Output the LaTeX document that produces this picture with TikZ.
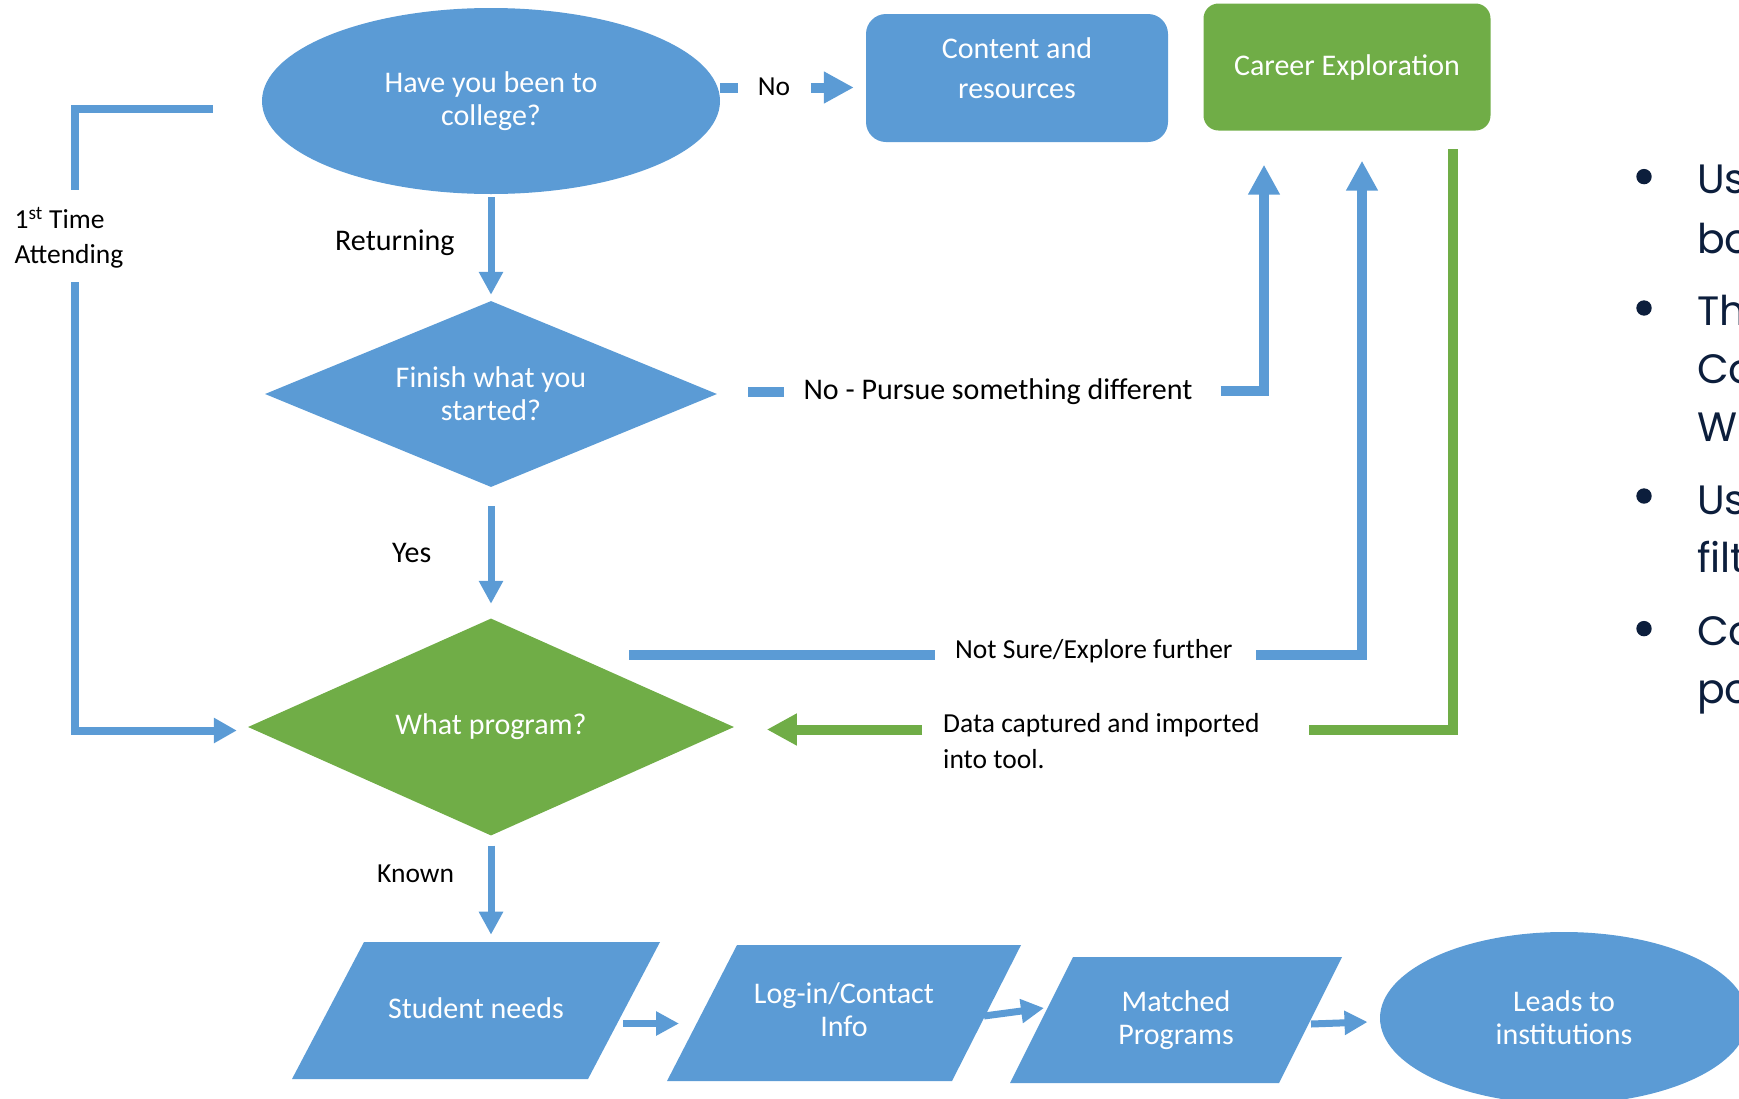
\documentclass[tikz,border=0pt]{standalone}
\usepackage{fontspec}
\setmainfont{Carlito}
\newfontfamily\bulletfont{Poppins}
\usetikzlibrary{shapes.geometric,arrows.meta}

\definecolor{flowblue}{HTML}{5B9BD5}
\definecolor{flowgreen}{HTML}{70AD47}
\definecolor{bulletnavy}{HTML}{0C1E3C}

\tikzset{
  boxtext/.style={text=white, align=center, inner sep=0pt, font=\fontsize{30}{33}\selectfont},
  steplabel/.style={anchor=base west, inner sep=0pt, font=\fontsize{30}{33}\selectfont},
  smalllabel/.style={inner sep=0pt, align=left, font=\fontsize{27.5}{35.5}\selectfont},
  thinline/.style={draw=flowblue, line width=7pt},
  thinarrow/.style={thinline, -{Triangle[width=23pt,length=23pt]}},
  wideline/.style={draw=flowblue, line width=10pt},
  widearrow/.style={wideline, -{Triangle[width=30pt,length=30pt]}},
}

\begin{document}
\begin{tikzpicture}[x=1pt, y=-1pt]

\def\xc{491}; % main column
\def\xb{1644}; % bullet dots

\useasboundingbox (0,0) rectangle (1739,1098);
\clip (0,0) rectangle (1739,1098);

% main column
\node[ellipse, fill=flowblue, boxtext, minimum width=458pt, minimum height=186pt] (college) at (\xc,101) {Have you been to\\college?};
\node[diamond, fill=flowblue, boxtext, aspect=2.4, minimum width=452pt, minimum height=186pt] (finish) at (\xc,394) {Finish what you\\started?};
\node[diamond, fill=flowgreen, boxtext, aspect=2.2, minimum width=486pt, minimum height=217pt] (program) at (\xc,727) {What program?};

% top row
\node[rectangle, rounded corners=20pt, fill=flowblue, minimum width=302pt, minimum height=128pt] (content) at (1017,78) {};
\node[boxtext, font=\fontsize{30}{40}\selectfont] (contenttext) at ([yshift=9.5pt]content.center) {Content and\\resources};
\node[rectangle, rounded corners=15pt, fill=flowgreen, boxtext, minimum width=287pt, minimum height=127pt] (career) at (1347,67) {Career Exploration};

% bottom row
\fill[flowblue] (292,1079) -- (364,942) -- (660,942) -- (588,1079) -- cycle;
\node[boxtext] (needs) at (476,1008.5) {Student needs};
\fill[flowblue] (667,1081) -- (737,945) -- (1021,945) -- (952,1081) -- cycle;
\node[boxtext] (login) at (844,1010) {Log-in/Contact\\Info};
\fill[flowblue] (1010,1083) -- (1073,957) -- (1342,957) -- (1279,1083) -- cycle;
\node[boxtext] (matched) at (1176,1020) {Matched\\Programs};
\node[ellipse, fill=flowblue, boxtext, minimum width=368pt, minimum height=172pt] (leads) at (1564,1018) {Leads to\\institutions};

% labels
\node[smalllabel, anchor=base west] (nolabel) at (757.6,95.7) {No};
\node[steplabel] (returning) at (335,250) {Returning};
\node[steplabel] (pursue) at (803.4,399.5) {No - Pursue something different};
\node[steplabel] (yes) at (392,562.8) {Yes};
\node[smalllabel, anchor=base west] (notsure) at (955,658.5) {Not Sure/Explore further};
\node[smalllabel, anchor=west] (captured) at (943,741) {Data captured and imported\\into tool.};
\node[smalllabel, anchor=base west] (known) at (377,882) {Known};
\node[smalllabel, anchor=west] (firsttime) at (14.5,238) {1\textsuperscript{st} Time\\Attending};

% free ends of the connectors
\coordinate (firstcorner) at (75,190);
\coordinate (firstback) at (75,282);
\coordinate (pursueend) at (1220.5,391.2);
\coordinate (sureleft) at (629,654.5);
\coordinate (sureright) at (935,654.5);
\coordinate (sureend) at (1256,654.5);
\coordinate (greenend) at (1309,730);
\coordinate (greenleft) at (922,729.5);

% connectors
\draw[wideline] ([yshift=13.5pt]college.east) -- ++(18,0);
\draw[widearrow] ([xshift=-55pt,yshift=-9.5pt]content.west) -- ([xshift=-12pt,yshift=-9.5pt]content.west);
\draw[thinarrow] ([yshift=-3pt]college.south) -- ([yshift=6pt]finish.north);
\draw[wideline] ([xshift=31pt,yshift=2.5pt]finish.east) -- ++(36,0);
\draw[widearrow] (pursueend) -| ([xshift=-83pt,yshift=-34pt]career.south);
\draw[thinarrow] ([yshift=-19pt]finish.south) -- ([yshift=14.5pt]program.north);
\draw[wideline] (sureleft) -- (sureright);
\draw[widearrow] (sureend) -| ([xshift=15pt,yshift=-30pt]career.south);
\draw[wideline, draw=flowgreen] ([xshift=106pt,yshift=-18.5pt]career.south) |- (greenend);
\draw[widearrow, draw=flowgreen] (greenleft) -- ([xshift=32.6pt,yshift=-2.5pt]program.east);
\draw[thinline, line width=8pt] ([xshift=-49pt,yshift=-8.4pt]college.west) -| (firstcorner);
\draw[thinarrow, line width=8pt, -{Triangle[width=24pt,length=23pt]}] (firstback) |- ([xshift=-11pt,yshift=-3.5pt]program.west);
\draw[thinarrow] ([yshift=-10pt]program.south) -- ([yshift=-99pt]program.south);
\draw[thinarrow] (623,1023.5) -- (679,1023.5);
\draw[thinarrow] (984,1016) -- (1044,1008);
\draw[thinarrow] (1311,1024) -- (1367.5,1022);

% bullet list, cut off at the right edge
\foreach \yb in {176.6, 308, 496, 628.6}
  \fill[bulletnavy] (\xb,\yb) circle[radius=7.7pt];
\foreach \yb/\word [count=\i] in {193.5/Us, 253/bo, 325/Th, 383/Co, 441/W, 514.5/Us, 572/filt, 645/Co, 703/po}
  \node[anchor=base west, inner sep=0pt, text=bulletnavy, font=\bulletfont\fontsize{41}{50}\selectfont] (bullet\i) at (1697,\yb) {\word};

\end{tikzpicture}
\end{document}
